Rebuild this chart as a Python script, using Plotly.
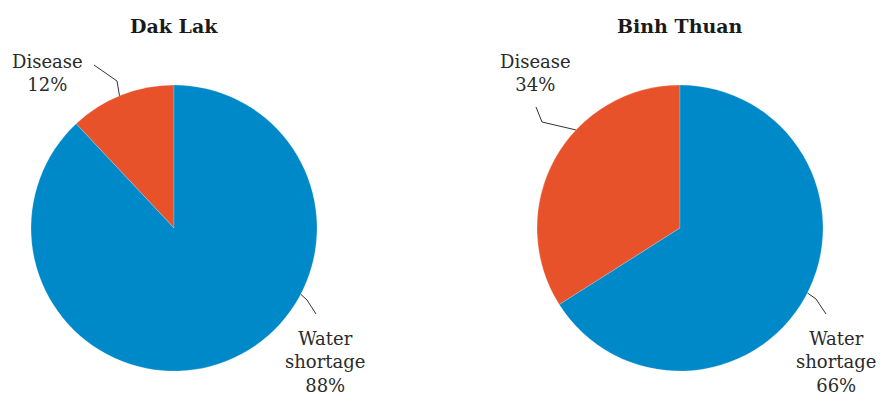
import math
import plotly.graph_objects as go

# Causes of crop loss by province (share of affected households, %)
causes = ["Disease", "Water shortage"]
dak_lak = [12, 88]
binh_thuan = [34, 66]
provinces = ["Dak Lak", "Binh Thuan"]

colors = ["#E8522B", "#0089C9"]
FONT = "DejaVu Serif"
W, H = 880, 400

# Pie geometry in pixels: centre x, centre y (from top), radius
geom = {"Dak Lak": (174, 228, 143), "Binh Thuan": (680, 228, 143)}


def px(x):
    return x / W


def py(y):
    return 1 - y / H


fig = go.Figure()
for name, vals in zip(provinces, [dak_lak, binh_thuan]):
    cx, cy, r = geom[name]
    fig.add_trace(go.Pie(
        labels=causes, values=vals, sort=False, direction="clockwise",
        rotation=-(vals[0] / sum(vals)) * 360, textinfo="none",
        hoverinfo="label+percent",
        marker=dict(colors=colors, line=dict(color="white", width=0.2)),
        domain=dict(x=[px(cx - r), px(cx + r)], y=[py(cy + r), py(cy - r)]),
        showlegend=False,
    ))
    fig.add_annotation(x=px(cx), y=py(26), xref="paper", yref="paper",
                       text=f"<b>{name}</b>", showarrow=False,
                       font=dict(family=FONT, size=19, color="#1a1a1a"),
                       xanchor="center", yanchor="middle")

# Label placements: (province, cause index, label centre px, leader start angle
# measured clockwise from 12 o'clock, elbow point, end point)
label_layout = [
    ("Dak Lak", 0, (47, 73), -22.4, (117, 81), (94, 65)),
    ("Dak Lak", 1, (325, 362), 117.6, (307, 300), (316, 314)),
    ("Binh Thuan", 0, (535, 73), -46.7, (542, 122), (536, 107)),
    ("Binh Thuan", 1, (836, 362), 117.0, (816, 299), (826, 314)),
]
data = {"Dak Lak": dak_lak, "Binh Thuan": binh_thuan}
names = {0: "Disease", 1: "Water<br>shortage"}

for prov, idx, (lx, ly), ang, elbow, end in label_layout:
    cx, cy, r = geom[prov]
    a = math.radians(ang)
    sx, sy = cx + r * math.sin(a), cy - r * math.cos(a)
    fig.add_shape(type="path", xref="paper", yref="paper",
                  path=f"M {px(sx)},{py(sy)} L {px(elbow[0])},{py(elbow[1])} "
                       f"L {px(end[0])},{py(end[1])}",
                  line=dict(color="#333333", width=1))
    fig.add_annotation(x=px(lx), y=py(ly), xref="paper", yref="paper",
                       text=f"{names[idx]}<br>{data[prov][idx]}%",
                       showarrow=False, align="center",
                       font=dict(family=FONT, size=18, color="#2a2a2a"),
                       xanchor="center", yanchor="middle")

fig.update_layout(width=W, height=H, margin=dict(l=0, r=0, t=0, b=0),
                  paper_bgcolor="white", plot_bgcolor="white")
fig.write_html("out.html")
